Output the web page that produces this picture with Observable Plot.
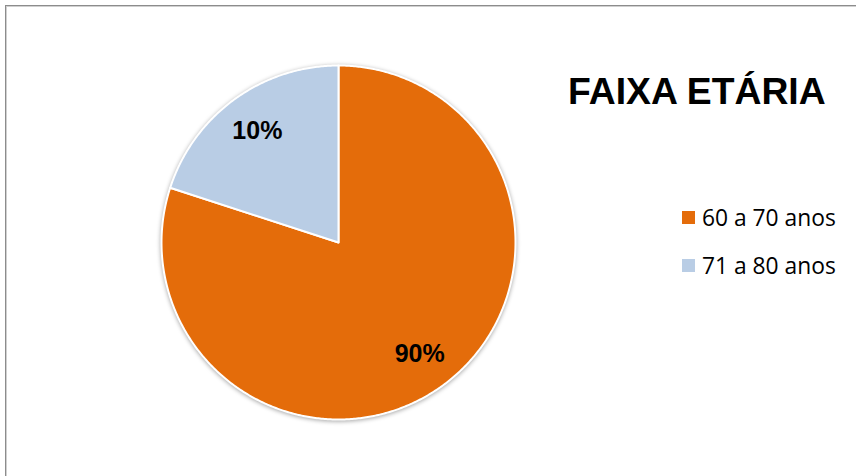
<!DOCTYPE html>
<html>
<head>
<meta charset="utf-8">
<script src="https://cdn.jsdelivr.net/npm/d3@7"></script>
<script src="https://cdn.jsdelivr.net/npm/@observablehq/plot@0.6"></script>
<style>
  html, body { margin: 0; padding: 0; background: #fff; overflow: hidden; }
  #wrap { position: relative; width: 856px; height: 476px; }
  #frame { position: absolute; left: 5px; top: 5px; width: 900px; height: 520px;
           border-left: 1px solid #8c8c8c; border-top: 1px solid #8c8c8c;
           box-shadow: inset 1px 1px 0 #d0d0d0; }
  #chart { position: absolute; left: 0; top: 0; }
  #chart g[aria-label="line"] { filter: drop-shadow(0px 1px 2px rgba(0,0,0,0.35)); }
  #title { position: absolute; left: 568px; top: 73px; font-family: "Liberation Sans", Arial, sans-serif;
           font-weight: bold; font-size: 37.3px; color: #000; line-height: 1; white-space: nowrap; }
  .item { position: absolute; left: 682px; font-family: "Open Sans", sans-serif; font-size: 22.8px;
          color: #000; white-space: nowrap; display: flex; align-items: center; }
  .sw { width: 13px; height: 13px; margin-right: 7px; }
</style>
</head>
<body>
<div id="wrap">
  <div id="frame"></div>
  <div id="chart"></div>
  <div id="title">FAIXA ETÁRIA</div>
  <div id="legend"></div>
</div>
<script>
const categories = ["60 a 70 anos", "71 a 80 anos"];
const values = [80, 20];
const labels = ["90%", "10%"];
const colors = ["#E46C0A", "#B9CDE5"];

// build slice polygons (clockwise from 12 o'clock) in unit-circle coordinates
const total = d3.sum(values);
const slices = [];
const labelPts = [];
let start = 0;
categories.forEach((c, i) => {
  const a0 = start, a1 = start + values[i] / total * 2 * Math.PI;
  slices.push({key: c, x: 0, y: 0});
  const n = Math.max(2, Math.ceil((a1 - a0) / (Math.PI / 360)));
  for (let k = 0; k <= n; k++) {
    const t = a0 + (a1 - a0) * k / n;
    slices.push({key: c, x: Math.sin(t), y: Math.cos(t)});
  }
  slices.push({key: c, x: 0, y: 0});
  const m = (a0 + a1) / 2;
  labelPts.push({label: labels[i], x: 0.78 * Math.sin(m), y: 0.78 * Math.cos(m)});
  start = a1;
});

const cx = 338, cy = 242, r = 177;
const plot = Plot.plot({
  width: 856,
  height: 476,
  margin: 0,
  x: {domain: [-1, 1], range: [cx - r, cx + r], axis: null},
  y: {domain: [-1, 1], range: [cy + r, cy - r], axis: null},
  color: {domain: categories, range: colors},
  marks: [
    Plot.line(slices, {x: "x", y: "y", z: "key", fill: "key", stroke: "white", strokeWidth: 2, strokeLinejoin: "round"}),
    Plot.text(labelPts, {x: "x", y: "y", text: "label", fontSize: 25, fontWeight: "bold",
      fontFamily: "'Liberation Sans', Arial, sans-serif", fill: "#000"})
  ]
});
document.getElementById("chart").appendChild(plot);

const legend = document.getElementById("legend");
categories.forEach((c, i) => {
  const it = document.createElement("div");
  it.className = "item";
  it.style.top = (202 + i * 48) + "px";
  it.innerHTML = `<span class="sw" style="background:${colors[i]}"></span><span>${c}</span>`;
  legend.appendChild(it);
});
</script>
</body>
</html>
